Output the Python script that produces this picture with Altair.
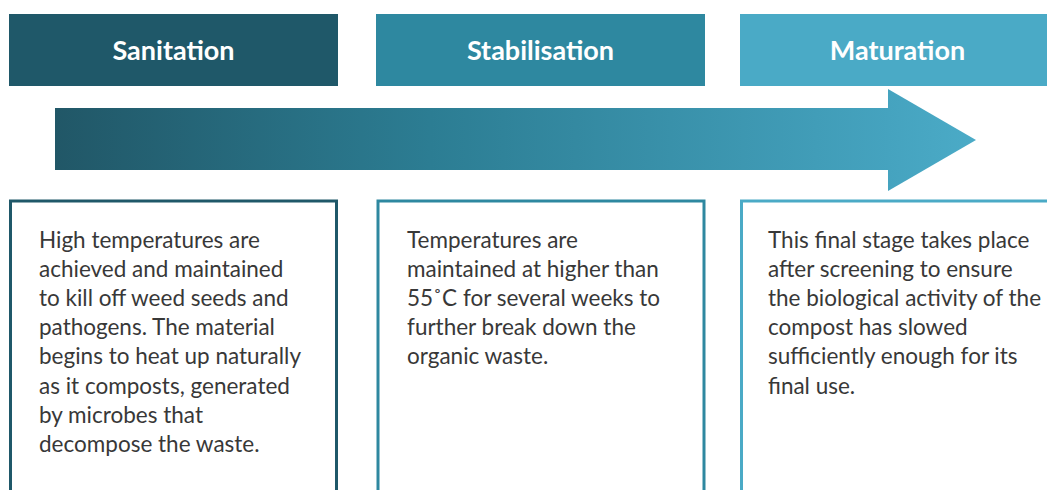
import altair as alt
import pandas as pd

# ---- content ----
stages = ["Sanitation", "Stabilisation", "Maturation"]
stage_colors = ["#1F5869", "#2E88A0", "#4AAAC6"]
descriptions = [
    ["High temperatures are", "achieved and maintained", "to kill off weed seeds and",
     "pathogens. The material", "begins to heat up naturally", "as it composts, generated",
     "by microbes that", "decompose the waste."],
    ["Temperatures are", "maintained at higher than", "55˚C for several weeks to",
     "further break down the", "organic waste."],
    ["This final stage takes place", "after screening to ensure",
     "the biological activity of the", "compost has slowed",
     "sufficiently enough for its", "final use."],
]

# ---- layout (pixel coordinates of the reference) ----
col_left = [9, 376, 740]
col_right = [338, 705, 1070]
box_left = [10.5, 378, 741.5]
box_right = [336.5, 704, 1070]
text_left = [39, 407, 768]
head_top, head_bot = 14, 86
box_top, box_bot = 201, 530
first_base, line_h = 248, 29.1

W, H = 1039, 482
X0, Y0 = 8, 8
xs = alt.Scale(domain=[X0, X0 + W], nice=False, zero=False)
ys = alt.Scale(domain=[Y0, Y0 + H], nice=False, zero=False, reverse=True)

heads = pd.DataFrame({
    "stage": stages, "color": stage_colors,
    "x": col_left, "x2": col_right, "y": head_top, "y2": head_bot,
    "cx": [(a + min(b, 1055)) / 2 for a, b in zip(col_left, col_right)],
    "ty": 60,
})
boxes = pd.DataFrame({
    "stage": stages, "color": stage_colors,
    "x": box_left, "x2": box_right, "y": box_top, "y2": box_bot,
})
rows = []
for i, lines in enumerate(descriptions):
    for j, t in enumerate(lines):
        rows.append({"text": t, "x": text_left[i], "y": first_base + j * line_h})
texts = pd.DataFrame(rows)

arrow_body = pd.DataFrame({"x": [55], "x2": [889], "y": [108], "y2": [170]})
arrow_head = pd.DataFrame({
    "x": [888, 976],
    "y": [89, 140],
    "y2": [191, 140],
})

enc_x = alt.X("x:Q", scale=xs, axis=None)
enc_y = alt.Y("y:Q", scale=ys, axis=None)

head_rects = alt.Chart(heads).mark_rect(clip=True).encode(
    x=enc_x, x2="x2:Q", y=enc_y, y2="y2:Q",
    color=alt.Color("color:N", scale=None),
)
head_text = alt.Chart(heads).mark_text(
    font="Lato", fontWeight="bold", fontSize=27, color="white",
    align="center", baseline="alphabetic",
).encode(
    x=alt.X("cx:Q", scale=xs, axis=None),
    y=alt.Y("ty:Q", scale=ys, axis=None),
    text="stage:N",
)

body_grad = alt.Gradient(
    gradient="linear",
    stops=[
        alt.GradientStop(color="#215767", offset=0),
        alt.GradientStop(color="#2C7D93", offset=0.45),
        alt.GradientStop(color="#45A3BF", offset=1),
    ],
    x1=0, x2=1, y1=0, y2=0,
)
head_grad = alt.Gradient(
    gradient="linear",
    stops=[
        alt.GradientStop(color="#45A3BF", offset=0),
        alt.GradientStop(color="#4BABC7", offset=1),
    ],
    x1=0, x2=1, y1=0, y2=0,
)
body_mark = alt.Chart(arrow_body).mark_rect(fill=body_grad).encode(
    x=enc_x, x2="x2:Q", y=enc_y, y2="y2:Q",
)
head_mark = alt.Chart(arrow_head).mark_area(fill=head_grad, interpolate="linear").encode(
    x=enc_x, y=enc_y, y2="y2:Q",
)

box_rects = alt.Chart(boxes).mark_rect(clip=True, fill="white", strokeWidth=3).encode(
    x=enc_x, x2="x2:Q", y=enc_y, y2="y2:Q",
    stroke=alt.Stroke("color:N", scale=None),
)
body_text = alt.Chart(texts).mark_text(
    font="Lato", fontSize=22.5, color="#383838",
    align="left", baseline="alphabetic",
).encode(x=enc_x, y=enc_y, text="text:N")

chart = alt.layer(head_rects, head_text, body_mark, head_mark, box_rects, body_text).properties(
    width=W, height=H, padding=0, background="white",
).configure_view(stroke=None)

chart.save("out.html", embed_options={"renderer": "svg", "actions": False})
